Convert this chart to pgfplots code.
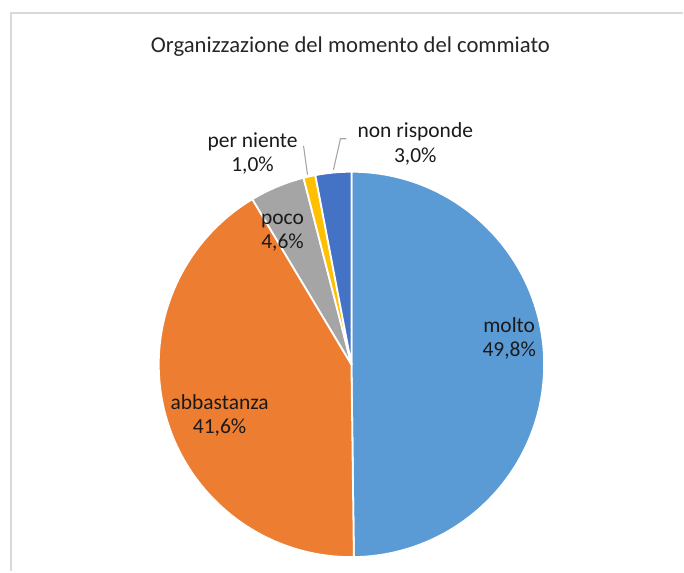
\documentclass[border=0pt]{standalone}
\usepackage{pgfplots}
\pgfplotsset{compat=1.18}
\usepackage{pgfplotstable}
\usepackage{fontspec}
\setmainfont{Carlito}
\definecolor{cA}{HTML}{5B9BD5}
\definecolor{cB}{HTML}{ED7D31}
\definecolor{cC}{HTML}{A5A5A5}
\definecolor{cD}{HTML}{FFC000}
\definecolor{cE}{HTML}{4472C4}
\definecolor{txt}{HTML}{1A1A1A}
\definecolor{ttl}{HTML}{262626}
\definecolor{frame}{HTML}{D9D9D9}
\definecolor{lead}{HTML}{A6A6A6}
\pgfplotstableread{
v c
49.8 cA
41.6 cB
4.6 cC
1.0 cD
3.0 cE
}\piedata
\begin{document}
\begin{tikzpicture}
\begin{axis}[
  width=684pt, height=572pt, scale only axis,
  xmin=0, xmax=684, ymin=0, ymax=572, y dir=reverse,
  hide axis, clip=false]
\path (axis cs:0,0) rectangle (axis cs:684,572);
\draw[frame, line width=2.2pt] (axis cs:11,572) -- (axis cs:11,13) -- (axis cs:684,13);
\node[ttl, font=\fontsize{22.7}{26}\selectfont] at (axis cs:351,47) {Organizzazione del momento del commiato};
\def\a{90}
\pgfplotsforeachungrouped \i in {0,...,4}{
  \pgfplotstablegetelem{\i}{v}\of\piedata \let\vv\pgfplotsretval
  \pgfplotstablegetelem{\i}{c}\of\piedata \let\cc\pgfplotsretval
  \pgfmathsetmacro\b{\a-3.6*\vv}
  \edef\cmd{\noexpand\fill[\cc, draw=white, line width=1.8pt, line join=round] (axis cs:352,365) -- ++(\a:193pt) arc[start angle=\a, end angle=\b, radius=193pt] -- cycle;}
  \cmd
  \let\a\b
}
\draw[lead, line width=1.1pt] (axis cs:308,175) -- (axis cs:304,146);
\draw[lead, line width=1.1pt] (axis cs:334,170) -- (axis cs:341,139) -- (axis cs:347,139);
\tikzset{lab/.style={txt, align=center, font=\fontsize{21.5}{24.5}\selectfont}}
\node[lab] at (axis cs:510,339) {molto\\49,8\%};
\node[lab] at (axis cs:220,416) {abbastanza\\41,6\%};
\node[lab] at (axis cs:283,233) {poco\\4,6\%};
\node[lab] at (axis cs:253,154) {per niente\\1,0\%};
\node[lab] at (axis cs:416,144) {non risponde\\3,0\%};
\end{axis}
\end{tikzpicture}
\end{document}
